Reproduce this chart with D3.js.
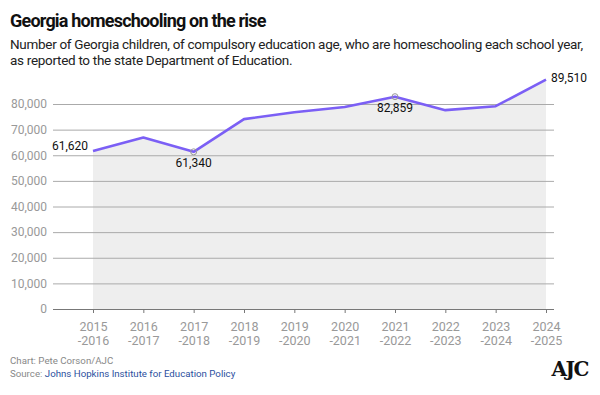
<!DOCTYPE html>
<html>
<head>
<meta charset="utf-8">
<script src="https://cdn.jsdelivr.net/npm/d3@7"></script>
<style>
  body { margin: 0; background: #fff; }
  text { font-family: "Roboto", "Noto Sans", sans-serif; }
</style>
</head>
<body>
<svg id="chart"></svg>
<script>
var w = 600;
var h = 395;

// school years and homeschool counts
var years = ["2015", "2016", "2017", "2018", "2019", "2020", "2021", "2022", "2023", "2024"];
var yearEnds = ["-2016", "-2017", "-2018", "-2019", "-2020", "-2021", "-2022", "-2023", "-2024", "-2025"];
var counts = [61620, 66900, 61340, 74100, 76800, 78800, 82859, 77600, 79150, 89510];
var yTicks = [0, 10000, 20000, 30000, 40000, 50000, 60000, 70000, 80000];

var svg = d3.select("#chart")
  .attr("width", w)
  .attr("height", h)
  .attr("viewBox", [0, 0, w, h]);

var x = d3.scalePoint().domain(years).range([93, 546]);
var y = d3.scaleLinear().domain([0, 80000]).range([309, 104]);

// title block
svg.append("text").attr("x", 10).attr("y", 27)
  .style("font-size", "18px").style("font-weight", "bold").style("fill", "#111")
  .style("letter-spacing", "-0.8px")
  .text("Georgia homeschooling on the rise");
svg.append("text").attr("x", 10).attr("y", 49)
  .style("font-size", "13.5px").style("fill", "#222").style("letter-spacing", "-0.3px")
  .text("Number of Georgia children, of compulsory education age, who are homeschooling each school year,");
svg.append("text").attr("x", 10).attr("y", 65)
  .style("font-size", "13.5px").style("fill", "#222").style("letter-spacing", "-0.3px")
  .text("as reported to the state Department of Education.");

// shaded area under the line
var area = d3.area()
  .x(function (d, i) { return x(years[i]); })
  .y0(y(0))
  .y1(function (d) { return y(d); });
svg.append("path").datum(counts)
  .attr("d", area)
  .style("fill", "#eeeeee");

// grid + y labels
var yAxis = d3.axisLeft(y).tickValues(yTicks).tickSize(-501).tickFormat(d3.format(","));
var gy = svg.append("g").attr("transform", "translate(53,0)").call(yAxis);
gy.select(".domain").remove();
gy.selectAll(".tick line").style("stroke", "#aaa").style("stroke-width", 1);
gy.selectAll(".tick text").attr("x", -6)
  .style("font-size", "12px").style("fill", "#999").style("font-family", "Roboto, sans-serif");
gy.selectAll(".tick").filter(function (d) { return d === 0; }).select("line")
  .style("stroke", "#777");

// x axis
var xAxis = d3.axisBottom(x).tickSize(4).tickFormat("");
var gx = svg.append("g").attr("transform", "translate(0," + y(0) + ")").call(xAxis);
gx.select(".domain").remove();
gx.selectAll(".tick line").style("stroke", "#777");
gx.selectAll(".tick").append("text")
  .attr("y", 22).attr("text-anchor", "middle")
  .style("font-size", "12.5px").style("fill", "#999")
  .text(function (d) { return d; });
gx.selectAll(".tick").append("text")
  .attr("y", 36).attr("text-anchor", "middle")
  .style("font-size", "12.5px").style("fill", "#999")
  .text(function (d, i) { return yearEnds[i]; });

// line
var line = d3.line()
  .x(function (d, i) { return x(years[i]); })
  .y(function (d) { return y(d); });
svg.append("path").datum(counts)
  .attr("d", line)
  .style("fill", "none")
  .style("stroke", "#7b5ff5")
  .style("stroke-width", 2.6)
  .style("stroke-linejoin", "round");

// hollow markers at 2017 and 2021
[2, 6].forEach(function (i) {
  svg.append("circle")
    .attr("cx", x(years[i])).attr("cy", y(counts[i])).attr("r", 3)
    .style("fill", "none").style("stroke", "#999").style("stroke-width", 1);
});

// value labels
var fmt = d3.format(",");
var labels = [
  { i: 0, dx: -5, dy: -1, anchor: "end" },
  { i: 2, dx: 0, dy: 15, anchor: "middle" },
  { i: 6, dx: 0, dy: 15, anchor: "middle" },
  { i: 9, dx: 5, dy: 2, anchor: "start" }
];
labels.forEach(function (l) {
  svg.append("text")
    .attr("x", x(years[l.i]) + l.dx)
    .attr("y", y(counts[l.i]) + l.dy)
    .attr("text-anchor", l.anchor)
    .style("font-size", "12px").style("fill", "#111")
    .text(fmt(counts[l.i]));
});

// footer
svg.append("text").attr("x", 10).attr("y", 364)
  .style("font-size", "9.7px").style("fill", "#888")
  .text("Chart: Pete Corson/AJC");
var src = svg.append("text").attr("x", 10).attr("y", 377)
  .style("font-size", "9.7px").style("fill", "#888");
src.append("tspan").text("Source: ");
src.append("tspan").style("fill", "#2b4f9e").text("Johns Hopkins Institute for Education Policy");

svg.append("text").attr("x", 588).attr("y", 376).attr("text-anchor", "end")
  .style("font-family", "'DejaVu Serif', serif").style("font-weight", "bold")
  .style("font-size", "20px").style("fill", "#111").style("letter-spacing", "-1.5px")
  .text("AJC");
</script>
</body>
</html>
